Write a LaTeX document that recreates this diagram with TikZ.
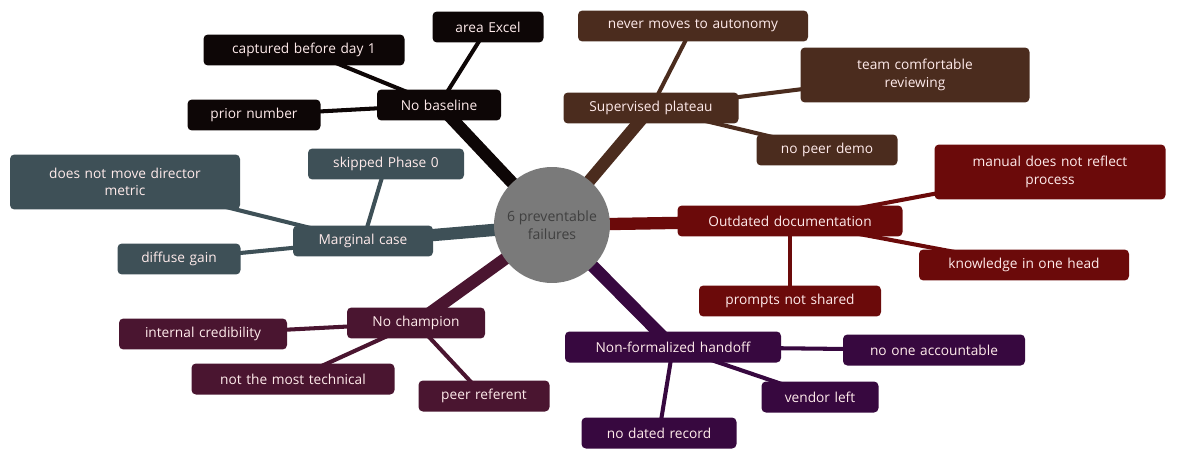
\documentclass[tikz,border=0pt]{standalone}
\usepackage{fontspec}
\setmainfont{Open Sans}
\begin{document}
\begin{tikzpicture}[x=0.02cm,y=-0.02cm,
  box/.style={rounded corners=2.5pt,text=white!92!red,font=\fontsize{7.8}{10}\selectfont,align=center,minimum height=0.62cm,inner sep=1pt},
  w/.style={minimum width=#1*0.02cm, text width=#1*0.02cm-8pt}]
\definecolor{cK}{HTML}{0D0606}\definecolor{cB}{HTML}{4B2C1E}\definecolor{cR}{HTML}{6B0A0A}
\definecolor{cP}{HTML}{37083F}\definecolor{cM}{HTML}{4A1530}\definecolor{cS}{HTML}{3E5057}
\useasboundingbox (0,0) rectangle (1184,463);
\coordinate (c) at (552,225);
% nodes placed first as coordinates for edges
\begin{scope}[on background layer/.style={}]
\end{scope}
\path
 (439,105) coordinate (nb) (488,27) coordinate (ae) (304,50) coordinate (cb) (254,115) coordinate (pn)
 (651,108) coordinate (sp) (693,26) coordinate (nm) (915,75) coordinate (tc) (827,150) coordinate (pd)
 (790,221) coordinate (od) (1050,172) coordinate (mr) (1024,265) coordinate (ko) (790,301) coordinate (ps)
 (673,347) coordinate (nf) (934,350) coordinate (na) (820,397) coordinate (vl) (659,433) coordinate (nd)
 (416,323) coordinate (nc) (203,334) coordinate (ic) (293,379) coordinate (nt) (484,396) coordinate (pr)
 (363,241) coordinate (mc) (386,164) coordinate (sk) (125,182) coordinate (dm) (179,259) coordinate (dg);
\foreach \a/\col in {nb/cK,sp/cB,od/cR,nf/cP,nc/cM,mc/cS}
  \draw[\col,line width=7pt] (c) -- (\a);
\foreach \a/\b/\col in {nb/ae/cK,nb/cb/cK,nb/pn/cK,sp/nm/cB,sp/tc/cB,sp/pd/cB,od/mr/cR,od/ko/cR,od/ps/cR,
  nf/na/cP,nf/vl/cP,nf/nd/cP,nc/ic/cM,nc/nt/cM,nc/pr/cM,mc/sk/cS,mc/dm/cS,mc/dg/cS}
  \draw[\col,line width=2.3pt] (\a) -- (\b);
\node[circle,fill=gray!80!teal!80!black,fill=black!52,minimum size=2.32cm,text=black!75,font=\fontsize{8}{10}\selectfont,align=center] (C) at (c) {6 preventable\\failures};
\node[box,fill=cK,w=124] (Nb) at (nb) {No baseline};
\node[box,fill=cK,w=111] (Ae) at (ae) {area Excel};
\node[box,fill=cK,w=201] (Cb) at (cb) {captured before day 1};
\node[box,fill=cK,w=133] (Pn) at (pn) {prior number};
\node[box,fill=cB,w=175] (Sp) at (sp) {Supervised plateau};
\node[box,fill=cB,w=230] (Nm) at (nm) {never moves to autonomy};
\node[box,fill=cB,w=229,minimum height=1.1cm] (Tc) at (tc) {team comfortable\\reviewing};
\node[box,fill=cB,w=141] (Pd) at (pd) {no peer demo};
\node[box,fill=cR,w=225] (Od) at (od) {Outdated documentation};
\node[box,fill=cR,w=231,minimum height=1.1cm] (Mr) at (mr) {manual does not reflect\\process};
\node[box,fill=cR,w=210] (Ko) at (ko) {knowledge in one head};
\node[box,fill=cR,w=182] (Ps) at (ps) {prompts not shared};
\node[box,fill=cP,w=216] (Nf) at (nf) {Non-formalized handoff};
\node[box,fill=cP,w=182] (Na) at (na) {no one accountable};
\node[box,fill=cP,w=117] (Vl) at (vl) {vendor left};
\node[box,fill=cP,w=155] (Nd) at (nd) {no dated record};
\node[box,fill=cM,w=138] (Nc) at (nc) {No champion};
\node[box,fill=cM,w=168] (Ic) at (ic) {internal credibility};
\node[box,fill=cM,w=203] (Nt) at (nt) {not the most technical};
\node[box,fill=cM,w=131] (Pr) at (pr) {peer referent};
\node[box,fill=cS,w=140] (Mc) at (mc) {Marginal case};
\node[box,fill=cS,w=156] (Sk) at (sk) {skipped Phase 0};
\node[box,fill=cS,w=230,minimum height=1.1cm] (Dm) at (dm) {does not move director\\metric};
\node[box,fill=cS,w=123] (Dg) at (dg) {diffuse gain};
\end{tikzpicture}
\end{document}
